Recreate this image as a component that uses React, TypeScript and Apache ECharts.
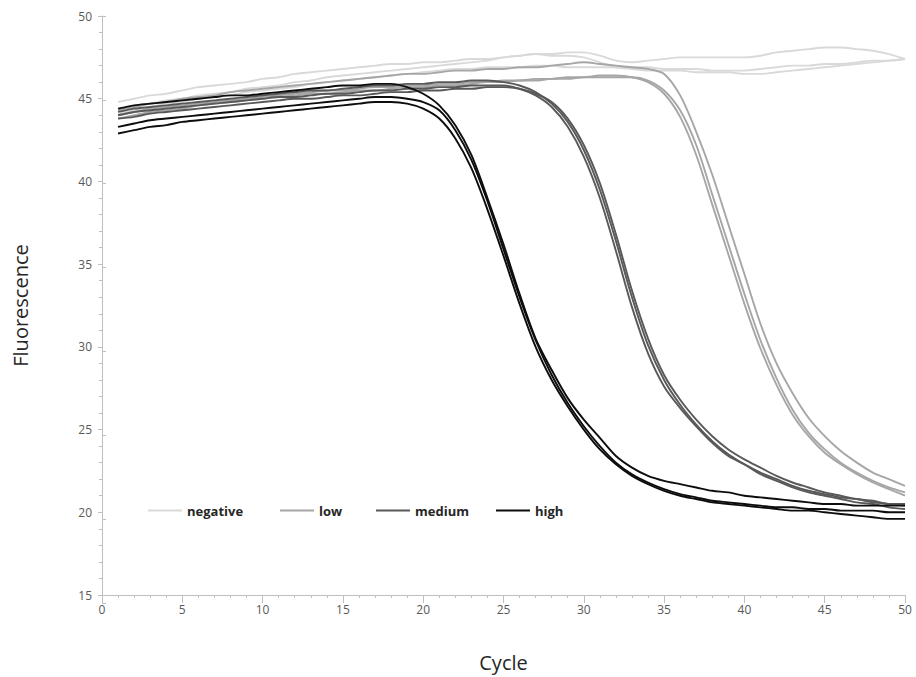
import React, { useEffect, useRef } from "react";
import * as echarts from "echarts";

const cycles = [1,2,3,4,5,6,7,8,9,10,11,12,13,14,15,16,17,18,19,20,21,22,23,24,25,26,27,28,29,30,31,32,33,34,35,36,37,38,39,40,41,42,43,44,45,46,47,48,49,50];

const negative1 = [44.8,45.0,45.2,45.3,45.5,45.7,45.8,45.9,46.0,46.2,46.3,46.5,46.6,46.7,46.8,46.9,47.0,47.1,47.1,47.2, 47.2,47.3,47.4,47.4,47.5,47.6,47.7,47.7,47.8,47.8, 47.6,47.3,47.2,47.3,47.4,47.5,47.5,47.5,47.5,47.5, 47.6,47.8,47.9,48.0,48.1,48.1,48.0,47.9,47.7,47.4];
const negative2 = [44.3,44.5,44.7,44.9,45.0,45.2,45.3,45.4,45.6,45.7,45.8,46.0,46.1,46.3,46.4,46.5,46.6,46.7,46.8,46.9, 47.0,47.1,47.2,47.3,47.5,47.6,47.7,47.6,47.6,47.5, 47.2,46.9,46.8,46.7,46.7,46.7,46.6,46.6,46.6,46.5, 46.5,46.6,46.7,46.8,46.9,47.0,47.1,47.2,47.3,47.4];
const negative3 = [44.1,44.3,44.5,44.7,44.8,45.0,45.1,45.2,45.4,45.5,45.6,45.7,45.9,46.0,46.1,46.2,46.3,46.4,46.5,46.6, 46.7,46.8,46.8,46.9,46.9,46.9,47.0,47.0,46.9,46.9, 46.9,46.9,46.9,46.9,46.8,46.8,46.8,46.7,46.7,46.7, 46.8,46.9,47.0,47.0,47.1,47.1,47.2,47.3,47.3,47.4];

const low1 = [44.0,44.2,44.4,44.5,44.6,44.7,44.8,44.9,45.0,45.1,45.2,45.3,45.4,45.5,45.5,45.6,45.7,45.7,45.8,45.8, 45.9,45.9,46.0,46.0,46.1,46.1,46.2,46.2,46.3,46.3, 46.4,46.4,46.3,46.0,45.3,43.9,41.6,38.6,35.6,32.6, 29.9,27.7,25.9,24.6,23.6,22.9,22.3,21.8,21.4,21.0];
const low2 = [43.8,44.0,44.2,44.3,44.4,44.6,44.7,44.8,44.9,45.0,45.1,45.2,45.3,45.3,45.4,45.5,45.5,45.6,45.7,45.7, 45.8,45.8,45.9,46.0,46.0,46.1,46.1,46.2,46.2,46.3, 46.3,46.3,46.3,46.1,45.5,44.3,42.2,39.2,36.2,33.2, 30.4,28.1,26.2,24.8,23.8,23.0,22.4,21.9,21.5,21.2];
const low3 = [44.3,44.5,44.7,44.8,45.0,45.1,45.2,45.4,45.5,45.6,45.7,45.8,45.9,46.0,46.1,46.2,46.3,46.4,46.5,46.5, 46.6,46.7,46.7,46.8,46.8,46.9,46.9,47.0,47.1,47.2, 47.1,47.0,46.9,46.8,46.5,45.2,43.0,40.4,37.4,34.4, 31.4,29.0,27.2,25.7,24.6,23.7,23.0,22.4,22.0,21.6];

const medium1 = [44.2,44.4,44.5,44.6,44.7,44.8,44.9,45.0,45.1,45.2,45.3,45.4,45.5,45.5,45.6,45.7,45.8,45.8,45.9,45.9, 46.0,46.0,46.1,46.1,46.0,45.8,45.4,44.7,43.6,41.9, 39.5,36.4,33.0,30.1,28.0,26.5,25.3,24.3,23.5,22.9, 22.3,21.9,21.5,21.2,21.0,20.8,20.6,20.5,20.3,20.2];
const medium2 = [44.0,44.2,44.3,44.4,44.5,44.6,44.7,44.8,44.9,45.0,45.1,45.1,45.2,45.3,45.3,45.4,45.5,45.5,45.6,45.6, 45.7,45.7,45.8,45.8,45.8,45.6,45.2,44.5,43.3,41.5, 39.0,35.8,32.4,29.6,27.6,26.3,25.2,24.2,23.4,22.9, 22.4,22.0,21.6,21.3,21.1,20.9,20.8,20.6,20.5,20.4];
const medium3 = [43.8,43.9,44.1,44.2,44.3,44.4,44.5,44.6,44.7,44.8,44.9,45.0,45.0,45.1,45.2,45.2,45.3,45.4,45.4,45.5, 45.5,45.6,45.6,45.7,45.7,45.6,45.3,44.8,43.8,42.2, 39.9,36.8,33.4,30.5,28.3,26.8,25.6,24.6,23.8,23.2, 22.7,22.2,21.8,21.5,21.2,21.0,20.8,20.7,20.5,20.5];

const high1 = [44.4,44.6,44.7,44.8,44.9,45.0,45.1,45.2,45.2,45.3,45.4,45.5,45.6,45.7,45.8,45.8,45.9,45.9,45.7,45.3, 44.6,43.4,41.6,39.0,36.2,33.2,30.5,28.6,26.9,25.6, 24.5,23.4,22.7,22.2,21.9,21.7,21.5,21.3,21.2,21.0, 20.9,20.8,20.7,20.6,20.5,20.5,20.4,20.4,20.4,20.4];
const high2 = [43.3,43.5,43.7,43.8,43.9,44.0,44.1,44.2,44.3,44.4,44.5,44.6,44.7,44.8,44.9,45.0,45.1,45.1,45.0,44.8, 44.3,43.1,41.3,38.8,35.9,33.0,30.4,28.3,26.6,25.2, 24.0,23.0,22.3,21.8,21.4,21.1,20.9,20.7,20.6,20.5, 20.4,20.3,20.3,20.2,20.2,20.1,20.1,20.1,20.0,20.0];
const high3 = [42.9,43.1,43.3,43.4,43.6,43.7,43.8,43.9,44.0,44.1,44.2,44.3,44.4,44.5,44.6,44.7,44.8,44.8,44.7,44.4, 43.8,42.6,40.8,38.3,35.5,32.6,30.0,28.0,26.4,25.0, 23.8,22.9,22.2,21.7,21.3,21.0,20.8,20.6,20.5,20.4, 20.3,20.2,20.1,20.1,20.0,19.9,19.8,19.7,19.6,19.6];

const groupNames = ["negative", "low", "medium", "high"];
const groupColors = ["#d9d9d9", "#a6a6a6", "#595959", "#0d0d0d"];
const groupSeries = [
  [negative1, negative2, negative3],
  [low1, low2, low3],
  [medium1, medium2, medium3],
  [high1, high2, high3],
];
const legendLefts = [148, 280, 376, 496];

const FONT = "'Open Sans', 'Noto Sans', sans-serif";
const AXIS_COLOR = "#bfbfbf";

export default function App() {
  const ref = useRef<HTMLDivElement>(null);
  useEffect(() => {
    if (!ref.current) return;
    const chart = echarts.init(ref.current, undefined, { renderer: "svg" });
    const series: any[] = [];
    groupSeries.forEach((group, gi) => {
      group.forEach((vals) => {
        series.push({
          type: "line",
          name: groupNames[gi],
          data: cycles.map((c, i) => [c, vals[i]]),
          showSymbol: false,
          symbol: "none",
          smooth: 0.3,
          lineStyle: { color: groupColors[gi], width: 1.9 },
          itemStyle: { color: groupColors[gi] },
          xAxisIndex: 0,
          yAxisIndex: 0,
        });
      });
    });
    const gridRect = { left: 102, right: 11, top: 16, bottom: 74 };
    chart.setOption({
      animation: false,
      backgroundColor: "#ffffff",
      textStyle: { fontFamily: FONT },
      grid: [
        { ...gridRect, containLabel: false },
        { ...gridRect, containLabel: false },
      ],
      legend: groupNames.map((n, i) => ({
        data: [n],
        left: legendLefts[i],
        top: 504,
        padding: 0,
        icon: "rect",
        itemWidth: 34,
        itemHeight: 2,
        itemGap: 4,
        textStyle: { fontFamily: FONT, fontSize: 13, fontWeight: "bold", color: "#262626" },
        selectedMode: false,
      })),
      xAxis: [
        {
          type: "value",
          gridIndex: 0,
          min: 0,
          max: 50,
          interval: 5,
          name: "Cycle",
          nameLocation: "middle",
          nameGap: 57,
          nameTextStyle: { fontFamily: FONT, fontSize: 20, color: "#262626" },
          axisLine: { show: true, lineStyle: { color: AXIS_COLOR, width: 1 } },
          axisTick: { show: true, inside: false, length: 4, lineStyle: { color: AXIS_COLOR } },
          minorTick: { show: true, splitNumber: 5, length: 3, lineStyle: { color: AXIS_COLOR } },
          axisLabel: { fontFamily: FONT, fontSize: 12, color: "#595959", margin: 8 },
          splitLine: { show: false },
        },
        {
          type: "value",
          gridIndex: 1,
          min: 0,
          max: 50,
          interval: 5,
          axisLine: { show: false },
          axisTick: { show: true, inside: true, length: 4, lineStyle: { color: AXIS_COLOR } },
          axisLabel: { show: false },
          splitLine: { show: false },
        },
      ],
      yAxis: [
        {
          type: "value",
          gridIndex: 0,
          min: 15,
          max: 50,
          interval: 5,
          name: "Fluorescence",
          nameLocation: "middle",
          nameGap: 72,
          nameRotate: 90,
          nameTextStyle: { fontFamily: FONT, fontSize: 20, color: "#262626" },
          axisLine: { show: true, lineStyle: { color: AXIS_COLOR, width: 1 } },
          axisTick: { show: true, inside: false, length: 4, lineStyle: { color: AXIS_COLOR } },
          minorTick: { show: true, splitNumber: 5, length: 3, lineStyle: { color: AXIS_COLOR } },
          axisLabel: { fontFamily: FONT, fontSize: 12, color: "#595959", margin: 10 },
          splitLine: { show: false },
        },
        {
          type: "value",
          gridIndex: 1,
          min: 15,
          max: 50,
          interval: 5,
          axisLine: { show: false },
          axisTick: { show: true, inside: true, length: 4, lineStyle: { color: AXIS_COLOR } },
          axisLabel: { show: false },
          splitLine: { show: false },
        },
      ],
      series,
    });
    return () => chart.dispose();
  }, []);
  return (
    <div
      ref={ref}
      style={{ position: "fixed", left: 0, top: 0, width: 916, height: 677, background: "#fff" }}
    />
  );
}
